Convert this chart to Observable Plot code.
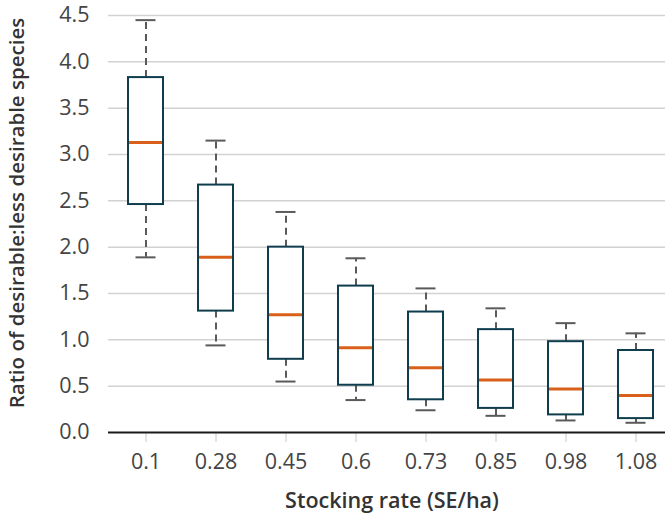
<!DOCTYPE html>
<html>
<head>
<meta charset="utf-8">
<script src="https://cdn.jsdelivr.net/npm/d3@7"></script>
<script src="https://cdn.jsdelivr.net/npm/@observablehq/plot@0.6"></script>
<style>
  html, body { margin: 0; padding: 0; background: #fff; }
  #chart svg { display: block; }
</style>
</head>
<body>
<div id="chart"></div>
<script>
const categories = ["0.1", "0.28", "0.45", "0.6", "0.73", "0.85", "0.98", "1.08"];
const whiskerHigh = [4.45, 3.15, 2.38, 1.88, 1.555, 1.34, 1.18, 1.07];
const q3 = [3.83, 2.67, 2.00, 1.58, 1.30, 1.11, 0.98, 0.885];
const median = [3.13, 1.89, 1.27, 0.915, 0.70, 0.566, 0.47, 0.40];
const q1 = [2.46, 1.31, 0.79, 0.51, 0.353, 0.26, 0.19, 0.15];
const whiskerLow = [1.89, 0.94, 0.55, 0.35, 0.24, 0.18, 0.13, 0.105];
const yTicks = [0, 0.5, 1.0, 1.5, 2.0, 2.5, 3.0, 3.5, 4.0, 4.5];
const xTitle = "Stocking rate (SE/ha)";
const yTitle = "Ratio of desirable:less desirable species";

const data = categories.map((c, i) => ({
  cat: c, hi: whiskerHigh[i], q3: q3[i], med: median[i], q1: q1[i], lo: whiskerLow[i]
}));

const boxStroke = "#0f3d4d";
const medColor = "#d9601a";
const whiskColor = "#5a5a5a";

const chart = Plot.plot({
  width: 665,
  height: 518,
  marginLeft: 108,
  marginRight: 0,
  marginTop: 15,
  marginBottom: 86,
  style: { fontFamily: "'Open Sans', sans-serif", fontSize: "21px", background: "#fff", overflow: "visible" },
  x: { type: "band", domain: categories, range: [110, 670], paddingInner: 0.5, paddingOuter: 0.25, axis: null },
  y: { domain: [0, 4.5], axis: null },
  marks: [
    Plot.ruleY(yTicks.filter(d => d > 0), { stroke: "#d2d2d2", strokeWidth: 1.5 }),
    Plot.axisY({ ticks: yTicks, tickSize: 0, tickPadding: 19, tickFormat: d3.format(".1f"), fill: "#444", fontSize: 21.5, label: null }),
    Plot.axisX({ tickSize: 10, tickPadding: 11, stroke: "#c8c8c8", fill: "#444", fontSize: 21.5, label: null }),
    Plot.ruleX(data, { x: "cat", y1: "q3", y2: "hi", stroke: whiskColor, strokeWidth: 2, strokeDasharray: "7,5" }),
    Plot.ruleX(data, { x: "cat", y1: "q1", y2: "lo", stroke: whiskColor, strokeWidth: 2, strokeDasharray: "7,5" }),
    Plot.tickY(data, { x: "cat", y: "hi", stroke: whiskColor, strokeWidth: 2, insetLeft: 7.5, insetRight: 7.5 }),
    Plot.tickY(data, { x: "cat", y: "lo", stroke: whiskColor, strokeWidth: 2, insetLeft: 7.5, insetRight: 7.5 }),
    Plot.barY(data, { x: "cat", y1: "q1", y2: "q3", fill: "#fff", stroke: boxStroke, strokeWidth: 2 }),
    Plot.tickY(data, { x: "cat", y: "med", stroke: medColor, strokeWidth: 3, insetLeft: 1, insetRight: 1 }),
    Plot.ruleY([0], { stroke: "#1a1a1a", strokeWidth: 2 }),
    Plot.text([xTitle], { frameAnchor: "bottom", textAnchor: "middle", dy: 75, dx: 5, fontWeight: 600, fontSize: 21.5, fill: "#333" }),
    Plot.text([yTitle], { frameAnchor: "left", textAnchor: "middle", dx: -91, dy: -11, rotate: -90, fontWeight: 600, fontSize: 20.5, fill: "#333" })
  ]
});
document.getElementById("chart").appendChild(chart);
</script>
</body>
</html>
